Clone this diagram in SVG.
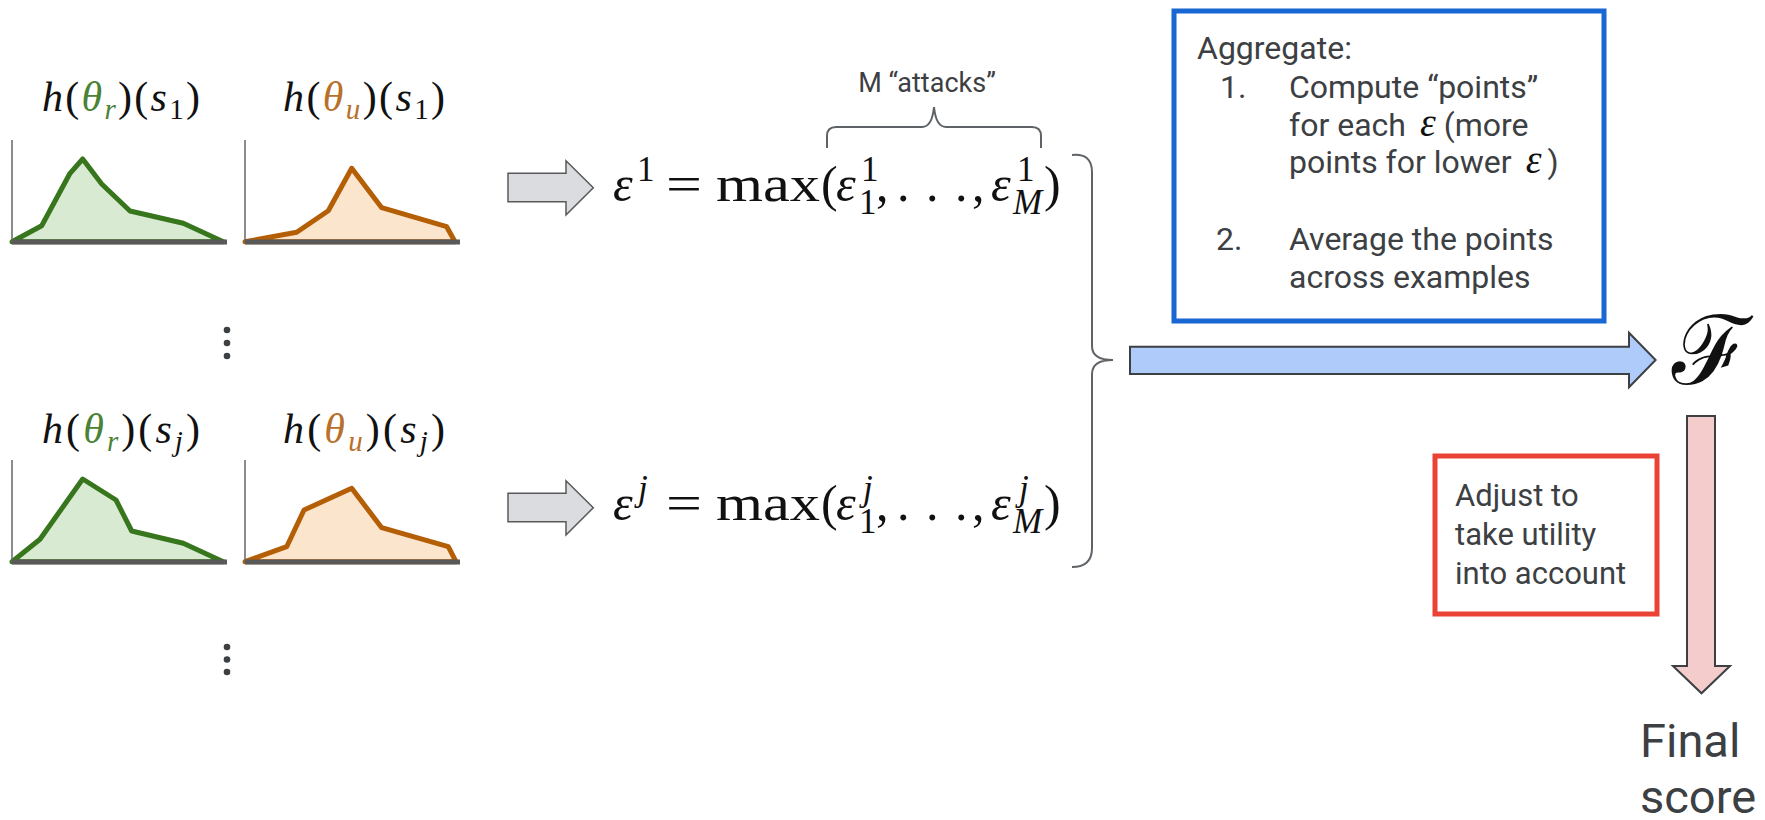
<svg xmlns="http://www.w3.org/2000/svg" width="1765" height="820" viewBox="0 0 1765 820">
<defs>
<style>
.math{font-family:"Liberation Serif","DejaVu Serif",serif;fill:#111}
.it{font-style:italic}
.lbl{font-size:42px}
.sub{font-size:29px}
.fm{font-size:50px}
.fs{font-size:35px}
.sans{font-family:Roboto,"Liberation Sans",sans-serif;fill:#3c4043}
.axis{stroke:#666;stroke-width:1.5;fill:none}
.base{stroke:#595959;stroke-width:5;fill:none}
.g{stroke:#38761d;stroke-width:5;fill:#d9ead3;stroke-linejoin:round}
.o{stroke:#b45f06;stroke-width:5;fill:#fce5cd;stroke-linejoin:round}
.gc{fill:#4a8236}
.oc{fill:#b8702a}
.garrow{fill:#dadce0;stroke:#595959;stroke-width:1.5}
.brace{fill:none;stroke:#5f6368;stroke-width:2}
.dot{fill:#3c4043}
.eps{font-family:"Liberation Serif","DejaVu Serif",serif;font-style:italic;font-size:40px;fill:#111}
</style>
</defs>
<rect width="1765" height="820" fill="#fff"/>

<g id="chart-r-1">
<polygon class="g" points="12,241.7 41.7,225.7 70,173.3 82.7,159 101.7,184 130,211 183.3,223.3 223.3,241.7"/>
<line class="axis" x1="12" y1="140" x2="12" y2="242"/>
<line class="base" x1="12" y1="242" x2="227" y2="242"/>
<text class="math lbl" x="42" y="111" textLength="158"><tspan class="it">h</tspan>(<tspan class="it gc">θ</tspan><tspan class="it sub gc" dy="8">r</tspan><tspan dy="-8">)(</tspan><tspan class="it">s</tspan><tspan class="sub" dy="8">1</tspan><tspan dy="-8">)</tspan></text>
</g>
<g id="chart-u-1">
<polygon class="o" points="245,241.7 296.7,232.3 328.3,210.7 351.7,168.3 381.7,207.7 446.7,226.7 455,241.7"/>
<line class="axis" x1="245" y1="140" x2="245" y2="242"/>
<line class="base" x1="245" y1="242" x2="460" y2="242"/>
<text class="math lbl" x="283" y="111" textLength="162"><tspan class="it">h</tspan>(<tspan class="it oc">θ</tspan><tspan class="it sub oc" dy="8">u</tspan><tspan dy="-8">)(</tspan><tspan class="it">s</tspan><tspan class="sub" dy="8">1</tspan><tspan dy="-8">)</tspan></text>
</g>
<g id="chart-r-j">
<polygon class="g" points="12,561.7 40,539.3 82.7,479 116,500 131.7,531 183.3,543.3 223.3,561.7"/>
<line class="axis" x1="12" y1="460" x2="12" y2="562"/>
<line class="base" x1="12" y1="562" x2="227" y2="562"/>
<text class="math lbl" x="42" y="443" textLength="158"><tspan class="it">h</tspan>(<tspan class="it gc">θ</tspan><tspan class="it sub gc" dy="8">r</tspan><tspan dy="-8">)(</tspan><tspan class="it">s</tspan><tspan class="it sub" dy="8">j</tspan><tspan dy="-8">)</tspan></text>
</g>
<g id="chart-u-j">
<polygon class="o" points="245,561.7 286.7,546.7 304,510 351.7,488.3 381.7,527.7 448.3,546.7 456,561.7"/>
<line class="axis" x1="245" y1="460" x2="245" y2="562"/>
<line class="base" x1="245" y1="562" x2="460" y2="562"/>
<text class="math lbl" x="283" y="443" textLength="162"><tspan class="it">h</tspan>(<tspan class="it oc">θ</tspan><tspan class="it sub oc" dy="8">u</tspan><tspan dy="-8">)(</tspan><tspan class="it">s</tspan><tspan class="it sub" dy="8">j</tspan><tspan dy="-8">)</tspan></text>
</g>
<g id="ellipsis-1">
<circle class="dot" cx="227" cy="330" r="3.3"/><circle class="dot" cx="227" cy="343" r="3.3"/><circle class="dot" cx="227" cy="356" r="3.3"/>
</g>
<g id="ellipsis-2">
<circle class="dot" cx="227" cy="647" r="3.3"/><circle class="dot" cx="227" cy="659.5" r="3.3"/><circle class="dot" cx="227" cy="672" r="3.3"/>
</g>

<g id="formula-1" class="math">
<text class="fm it" x="613" y="201">ε</text>
<text class="fs" x="637" y="181">1</text>
<text class="fm" x="666" y="201" textLength="36" lengthAdjust="spacingAndGlyphs">=</text>
<text class="fm" x="716" y="201" textLength="104" lengthAdjust="spacingAndGlyphs">max</text>
<text class="fm" x="821" y="201">(</text>
<text class="fm it" x="836" y="201">ε</text>
<text class="fs" x="861" y="181">1</text>
<text class="fs" x="859" y="214">1</text>
<text class="fm" x="876" y="201">,</text>
<text class="fm" x="897 926 955" y="201">...</text>
<text class="fm" x="972" y="201">,</text>
<text class="fm it" x="991" y="201">ε</text>
<text class="fs" x="1017" y="181">1</text>
<text class="fs it" x="1013" y="214">M</text>
<text class="fm" x="1044" y="201">)</text>
</g>
<g id="formula-j" class="math">
<text class="fm it" x="613" y="520">ε</text>
<text class="fs it" x="638" y="500">j</text>
<text class="fm" x="666" y="520" textLength="36" lengthAdjust="spacingAndGlyphs">=</text>
<text class="fm" x="716" y="520" textLength="104" lengthAdjust="spacingAndGlyphs">max</text>
<text class="fm" x="821" y="520">(</text>
<text class="fm it" x="836" y="520">ε</text>
<text class="fs it" x="863" y="500">j</text>
<text class="fs" x="859" y="533">1</text>
<text class="fm" x="876" y="520">,</text>
<text class="fm" x="897 926 955" y="520">...</text>
<text class="fm" x="972" y="520">,</text>
<text class="fm it" x="991" y="520">ε</text>
<text class="fs it" x="1019" y="500">j</text>
<text class="fs it" x="1013" y="533">M</text>
<text class="fm" x="1044" y="520">)</text>
</g>

<g id="attacks-label">
<path class="brace" d="M827,148 L827,136 Q827,127 836,127 L922,127 Q932,127 934,107 Q936,127 946,127 L1032,127 Q1041,127 1041,136 L1041,148"/>
<text class="sans" x="927" y="92" font-size="27" text-anchor="middle">M “attacks”</text>
</g>

<g id="aggregate-box">
<rect x="1174" y="11" width="430" height="310" fill="#fff" stroke="#1967d2" stroke-width="5"/>
<g class="sans" font-size="32">
<text x="1197" y="59">Aggregate:</text>
<text x="1220" y="98">1.</text>
<text x="1289" y="98">Compute “points”</text>
<text x="1289" y="136">for each<tspan class="eps" dx="14">ε</tspan><tspan dx="8">(more</tspan></text>
<text x="1289" y="173">points for lower<tspan class="eps" dx="14">ε</tspan><tspan dx="6">)</tspan></text>
<text x="1216" y="250">2.</text>
<text x="1289" y="250">Average the points</text>
<text x="1289" y="288">across examples</text>
</g>
</g>

<g id="F-node">
<text class="math" x="1672" y="384" font-size="96" font-family="DejaVu Serif, serif">ℱ</text>
</g>

<g id="adjust-box">
<rect x="1435" y="456" width="222" height="158" fill="#fff" stroke="#ea4335" stroke-width="5"/>
<g class="sans" font-size="31">
<text x="1455" y="506">Adjust to</text>
<text x="1455" y="545">take utility</text>
<text x="1455" y="584">into account</text>
</g>
</g>

<g id="final-score" class="sans" font-size="47">
<text x="1640" y="757">Final</text>
<text x="1640" y="813">score</text>
</g>

<g id="connectors">
<path class="garrow" d="M508,173.3 H566 V160.7 L593.3,187.7 L566,215 V201.7 H508 Z"/>
<path class="garrow" d="M508,493.3 H566 V480.7 L593.3,507.7 L566,535 V521.7 H508 Z"/>
<path class="brace" d="M1072,155 Q1092,153 1092,172 V346 Q1092,360 1113,360 Q1092,360 1092,374 V548 Q1092,567 1072,567"/>
<path d="M1130,346.7 H1629 V332.7 L1655.6,360 L1629,387.3 V374 H1130 Z" fill="#aecbfa" stroke="#3c4043" stroke-width="2"/>
<path d="M1687,416 H1715 V666 H1730 L1701.5,693.3 L1673,666 H1687 Z" fill="#f4cccc" stroke="#3c4043" stroke-width="2"/>
</g>
</svg>
